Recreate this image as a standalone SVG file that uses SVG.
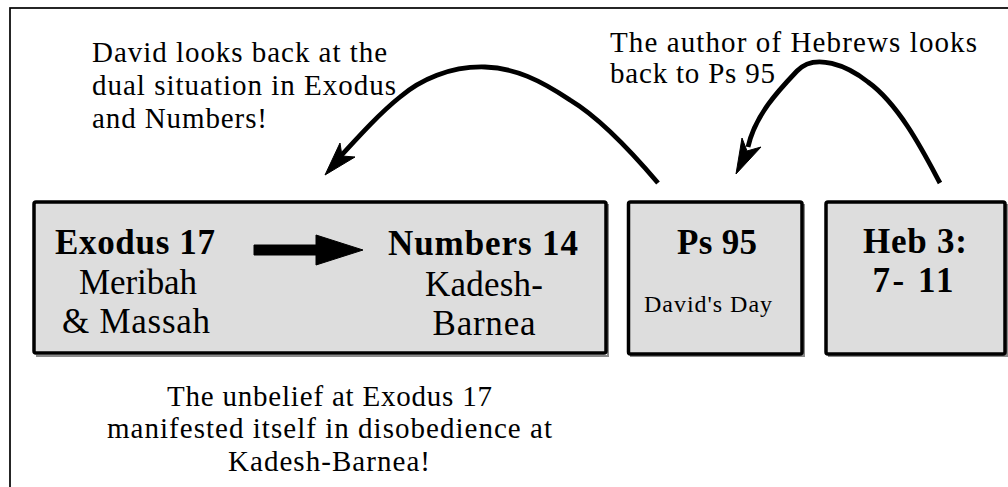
<svg xmlns="http://www.w3.org/2000/svg" width="1008" height="487" viewBox="0 0 1008 487">
<style>
  .frame { fill: #ffffff; stroke: #000000; stroke-width: 1.7; }
  .box { fill: #dddddd; stroke: #000000; stroke-width: 3.5; }
  .shadow { fill: none; stroke: #8a8a8a; stroke-width: 2; }
  text { font-family: "Liberation Serif", "Times New Roman", Tinos, Times, serif; fill: #000000; }
  .b { font-weight: bold; font-size: 35px; }
  .r { font-size: 35px; }
  .s { font-size: 24px; }
  .a { font-size: 29px; }
  .arc { fill: none; stroke: #000000; stroke-width: 4.8; stroke-linecap: butt; stroke-linejoin: round; }
  .head { fill: #000000; stroke: #000000; stroke-width: 1; stroke-linejoin: miter; }
</style>
<rect x="0" y="0" width="1008" height="487" fill="#ffffff"/>
<rect class="frame" x="10" y="8" width="1100" height="600"/>

<g id="node-exodus-numbers">
  <path class="shadow" d="M36,356 H608 V204"/>
  <rect class="box" x="34" y="202" width="572" height="151" rx="2"/>
  <text class="b" x="135" y="254" text-anchor="middle" textLength="160" lengthAdjust="spacing">Exodus 17</text>
  <text class="r" x="138" y="294" text-anchor="middle" textLength="118" lengthAdjust="spacing">Meribah</text>
  <text class="r" x="136" y="333" text-anchor="middle" textLength="148" lengthAdjust="spacing">&amp; Massah</text>
  <text class="b" x="483" y="255" text-anchor="middle" textLength="190" lengthAdjust="spacing">Numbers 14</text>
  <text class="r" x="484" y="296" text-anchor="middle" textLength="118" lengthAdjust="spacing">Kadesh-</text>
  <text class="r" x="484" y="335" text-anchor="middle" textLength="103" lengthAdjust="spacing">Barnea</text>
</g>

<g id="node-ps95">
  <path class="shadow" d="M630,356 H804 V204"/>
  <rect class="box" x="628.5" y="202" width="173.5" height="152" rx="2"/>
  <text class="b" x="717" y="254" text-anchor="middle" textLength="80" lengthAdjust="spacing">Ps 95</text>
  <text class="s" x="708" y="312" text-anchor="middle" textLength="128" lengthAdjust="spacing">David's Day</text>
</g>

<g id="node-heb">
  <path class="shadow" d="M828,356 H1007 V204"/>
  <rect class="box" x="826" y="202" width="179" height="152" rx="2"/>
  <text class="b" x="915" y="253" text-anchor="middle" textLength="104" lengthAdjust="spacing">Heb 3:</text>
  <text class="b" x="913" y="292" text-anchor="middle" textLength="81" lengthAdjust="spacing">7- 11</text>
</g>

<g id="labels">
  <text class="a" x="92" y="62" textLength="295" lengthAdjust="spacing">David looks back at the</text>
  <text class="a" x="92" y="95" textLength="304" lengthAdjust="spacing">dual situation in Exodus</text>
  <text class="a" x="92" y="128" textLength="175" lengthAdjust="spacing">and Numbers!</text>
  <text class="a" x="610" y="52" textLength="367" lengthAdjust="spacing">The author of Hebrews looks</text>
  <text class="a" x="610" y="83" textLength="165" lengthAdjust="spacing">back to Ps 95</text>
  <text class="a" x="329.5" y="406" text-anchor="middle" textLength="325" lengthAdjust="spacing">The unbelief at Exodus 17</text>
  <text class="a" x="329.5" y="438" text-anchor="middle" textLength="445" lengthAdjust="spacing">manifested itself in disobedience at</text>
  <text class="a" x="329" y="471" text-anchor="middle" textLength="202" lengthAdjust="spacing">Kadesh-Barnea!</text>
</g>

<g id="connectors">
  <polygon class="head" points="254,245 316,245 316,235 363,250 316,265 316,255 254,255"/>
  <path class="arc" d="M658,183 C630,150 600,118 570,100 C540,80 515,68 485,67 C450,66 420,80 400,97 C380,113 360,135 338,159"/>
  <polygon class="head" points="325,175 340,143 342,156 355,157"/>
  <path class="arc" d="M940,183 C925,155 900,105 868,82 C848,66 815,52 797,71 C779,90 755,115 748,147"/>
  <polygon class="head" points="736,174 742,138 747,151 761,147"/>
</g>
</svg>
